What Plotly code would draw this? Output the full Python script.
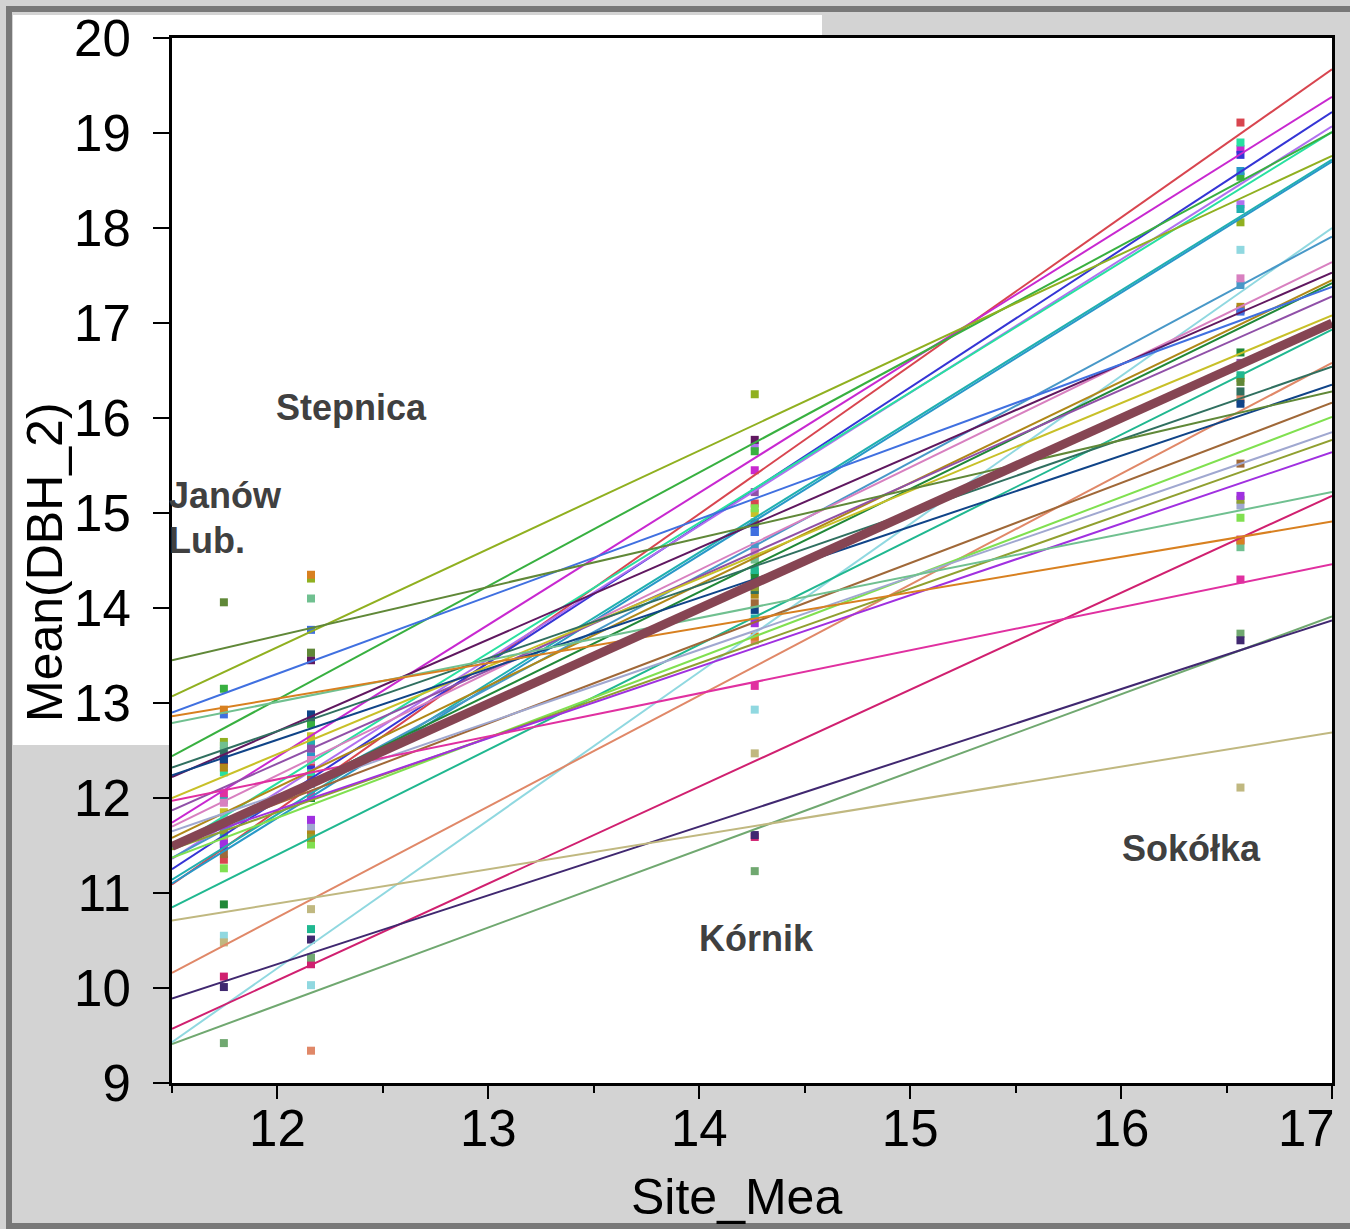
import plotly.graph_objects as go

# ---------------- data ----------------
site_names = ["Janów Lub.", "Stepnica", "Kórnik", "Sokółka"]
site_mean = [11.746, 12.159, 14.263, 16.566]

family_colors = [
    "#d8454f", "#c828d0", "#3535d5", "#b070f0", "#28e0a0", "#38b040", "#90b020",
    "#20b0b0", "#2898c8", "#90d8e0", "#4898c8", "#d880c0", "#601860", "#b08818",
    "#208838", "#4070e0", "#9050a8", "#c8c028", "#20b890", "#e08868", "#307060",
    "#104488", "#608838", "#a06838", "#80e050", "#a0a8d0", "#90a030", "#a030e0",
    "#70c090", "#d02070", "#d88020", "#e030a0", "#70a870", "#402870", "#c0b880",
]

# family mean DBH at each site
dbh_janow = [11.35, 12.36, 11.49, 11.70, 12.27, 13.15, 12.59, 11.98, 11.55, 10.55,
             11.62, 11.95, 12.40, 12.32, 10.88, 12.88, 12.44, 11.85, 11.60, 11.55,
             12.50, 12.41, 14.06, 11.41, 11.26, 11.80, 11.66, 11.52, 12.55, 10.12,
             12.93, 12.05, 9.42, 10.01, 10.48]
dbh_stepnica = [12.33, 12.60, 12.30, 12.20, 12.26, 12.78, 14.31, 12.59, 12.44, 10.03,
                12.15, 12.40, 13.45, 11.64, 12.00, 13.77, 12.52, 12.65, 10.62, 9.34,
                12.85, 12.88, 13.53, 12.19, 11.51, 11.70, 11.58, 11.77, 14.10, 10.25,
                14.35, 12.03, 10.32, 10.51, 10.83]
dbh_kornik = [15.10, 15.45, 14.87, 15.70, 14.38, 15.65, 16.25, 13.89, 14.80, 12.93,
              14.65, 14.59, 15.77, 14.14, 14.33, 14.80, 15.22, 15.00, 14.40, 13.66,
              14.19, 13.98, 14.90, 14.05, 15.05, 14.52, 14.22, 13.84, 14.51, 11.59,
              13.70, 13.18, 11.23, 11.61, 12.47]
dbh_sokolka = [19.11, 18.83, 18.77, 18.25, 18.90, 18.54, 18.06, 18.20, 18.60, 17.77,
               17.40, 17.47, 17.14, 17.17, 16.69, 17.12, 16.58, 16.42, 16.45, 16.20,
               16.28, 16.15, 16.38, 15.52, 14.95, 15.08, 15.14, 15.18, 14.64, 14.72,
               14.71, 14.30, 13.73, 13.66, 12.11]

# fitted family lines: predicted DBH at Site_Mea = 11.5 and 17
fit_x = [11.5, 17.0]
fit_low = [11.09, 11.74, 11.25, 11.36, 11.47, 12.44, 13.07, 11.14, 11.10, 9.43,
           11.37, 11.70, 12.22, 11.58, 11.46, 12.90, 11.87, 12.00, 10.85, 10.16,
           12.32, 12.24, 13.45, 11.52, 11.37, 11.65, 11.46, 11.50, 12.79, 9.57,
           12.86, 11.97, 9.41, 9.89, 10.71]
fit_high = [19.67, 19.38, 19.22, 19.07, 19.01, 19.01, 18.76, 18.72, 18.70, 18.00,
            17.91, 17.64, 17.53, 17.45, 17.42, 17.38, 17.28, 17.08, 16.93, 16.58,
            16.54, 16.35, 16.28, 16.16, 16.01, 15.85, 15.77, 15.64, 15.22, 15.18,
            14.91, 14.46, 13.91, 13.87, 12.69]
overall_fit = [11.49, 17.00]

x_ticks = [12, 13, 14, 15, 16, 17]
x_tick_labels = ["12", "13", "14", "15", "16", "17"]
y_ticks = [9, 10, 11, 12, 13, 14, 15, 16, 17, 18, 19, 20]

# ---------------- figure ----------------
fig = go.Figure()

site_values = [dbh_janow, dbh_stepnica, dbh_kornik, dbh_sokolka]
for sx, vals in zip(site_mean, site_values):
    fig.add_trace(go.Scatter(
        x=[sx] * len(vals), y=vals, mode="markers",
        marker=dict(symbol="square", size=8, color=family_colors, line=dict(width=0)),
        showlegend=False, hoverinfo="y"))

for c, lo, hi in zip(family_colors, fit_low, fit_high):
    fig.add_trace(go.Scatter(
        x=fit_x, y=[lo, hi], mode="lines",
        line=dict(color=c, width=2), showlegend=False))

fig.add_trace(go.Scatter(
    x=fit_x, y=overall_fit, mode="lines",
    line=dict(color="#864553", width=9), showlegend=False))

FONT = "Liberation Sans, Arial, sans-serif"
L, R, T, B = 172, 18, 38, 146
W, H = 1350, 1229
pw, ph = W - L - R, H - T - B


def px(x):
    return (x - L) / pw


def py(y):
    return (H - B - y) / ph


shapes = [
    dict(type="rect", xref="paper", yref="paper", layer="below",
         x0=px(13), x1=px(822), y0=py(745), y1=py(15),
         fillcolor="white", line=dict(width=0)),
    dict(type="rect", xref="paper", yref="paper", layer="below",
         x0=px(9), x1=px(1420), y0=py(1226), y1=py(9),
         fillcolor="rgba(0,0,0,0)", line=dict(color="#787878", width=6)),
]

LBL = dict(family=FONT, size=36, color="#404040")
annotations = [
    dict(text="<b>Stepnica</b>", x=px(351), y=py(408), xanchor="center", font=LBL),
    dict(text="<b>Janów</b>", x=px(167), y=py(495), xanchor="left", font=LBL),
    dict(text="<b>Lub.</b>", x=px(167), y=py(540), xanchor="left", font=LBL),
    dict(text="<b>Kórnik</b>", x=px(756), y=py(938), xanchor="center", font=LBL),
    dict(text="<b>Sokółka</b>", x=px(1191), y=py(848), xanchor="center", font=LBL),
    dict(text="Site_Mea", x=px(736), y=py(1197), xanchor="center",
         font=dict(family=FONT, size=50, color="black")),
    dict(text="Mean(DBH_2)", x=px(45), y=py(562), xanchor="center", textangle=-90,
         font=dict(family=FONT, size=50, color="black")),
    # last x tick label is pulled inside the chart, as in the original
    dict(text=x_tick_labels[-1], x=px(1337), y=py(1128), xanchor="right",
         font=dict(family=FONT, size=51, color="black")),
]
for a in annotations:
    a.update(xref="paper", yref="paper", showarrow=False, yanchor="middle")

fig.update_layout(
    width=W, height=H,
    margin=dict(l=L, r=R, t=T, b=B, pad=0),
    paper_bgcolor="#d3d3d3", plot_bgcolor="white",
    shapes=shapes, annotations=annotations,
    font=dict(family=FONT, color="black"),
)
fig.update_xaxes(
    range=[11.5, 17], tickvals=x_ticks, ticktext=x_tick_labels[:-1] + [""],
    ticks="outside", ticklen=13, tickwidth=2, tickcolor="black",
    tickfont=dict(family=FONT, size=51), ticklabelstandoff=-14,
    automargin=False,
    showline=True, linewidth=3, linecolor="black", mirror=True,
    showgrid=False, zeroline=False,
    minor=dict(ticks="outside", ticklen=7, tickwidth=2, tickcolor="black",
               tickvals=[11.5, 12.5, 13.5, 14.5, 15.5, 16.5]),
)
fig.update_yaxes(
    range=[9, 20], tickvals=y_ticks, ticktext=[str(v) for v in y_ticks],
    ticks="outside", ticklen=16, tickwidth=2, tickcolor="black",
    tickfont=dict(family=FONT, size=51), ticklabelstandoff=12,
    automargin=False,
    showline=True, linewidth=3, linecolor="black", mirror=True,
    showgrid=False, zeroline=False,
)

fig.write_html("out.html")
